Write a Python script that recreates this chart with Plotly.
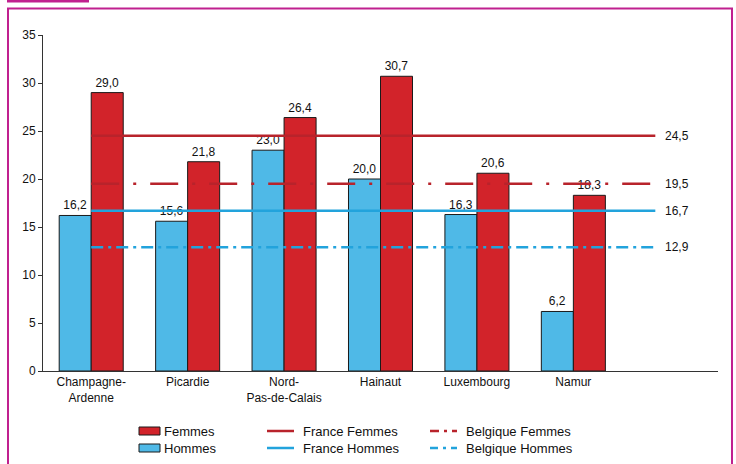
import plotly.graph_objects as go

# Regions and values (%)
regions = ["Champagne-<br>Ardenne", "Picardie", "Nord-<br>Pas-de-Calais", "Hainaut", "Luxembourg", "Namur"]
femmes = [29.0, 21.8, 26.4, 30.7, 20.6, 18.3]
hommes = [16.2, 15.6, 23.0, 20.0, 16.3, 6.2]

# Reference levels
ref_names = ["France Femmes", "France Hommes", "Belgique Femmes", "Belgique Hommes"]
ref_values = [24.5, 16.7, 19.5, 12.9]

RED = "#D2232A"
BLUE = "#4FB9E7"
RED_LINE = "#B8232B"
BLUE_LINE = "#22A3DC"
MAGENTA = "#C0208F"
FONT = "Liberation Sans, Arial, sans-serif"

ref_styles = {
    "France Femmes": dict(color=RED_LINE, width=2.5, dash="solid"),
    "France Hommes": dict(color=BLUE_LINE, width=2.5, dash="solid"),
    "Belgique Femmes": dict(color=RED_LINE, width=2.5, dash="28px,14px,3px,14px"),
    "Belgique Hommes": dict(color=BLUE_LINE, width=2.5, dash="12px,5px,3px,5px"),
}

xpos = list(range(len(regions)))
line_end = 5.85
label_x = 5.93

fig = go.Figure()
fig.add_trace(go.Bar(
    x=xpos, y=hommes, name="Hommes",
    marker=dict(color=BLUE, line=dict(color="#1a1a1a", width=1)),
    texttemplate="%{y:.1f}", textposition="outside",
    textfont=dict(size=12, color="#111", family=FONT), cliponaxis=False,
))
fig.add_trace(go.Bar(
    x=xpos, y=femmes, name="Femmes",
    marker=dict(color=RED, line=dict(color="#1a1a1a", width=1)),
    texttemplate="%{y:.1f}", textposition="outside",
    textfont=dict(size=12, color="#111", family=FONT), cliponaxis=False,
))

for name, val in zip(ref_names, ref_values):
    fig.add_trace(go.Scatter(
        x=[0, line_end], y=[val, val], mode="lines", name=name,
        line=ref_styles[name], hoverinfo="skip",
    ))
    fig.add_annotation(
        x=label_x, y=val, xref="x", yref="y", text=f"{val:.1f}".replace(".", ","),
        showarrow=False, xanchor="left", yanchor="middle",
        font=dict(size=12, color="#111", family=FONT),
    )

# Pixel helpers for the decorations outside the plot area
L, R, T, B = 43, 718, 35, 371
def px(x):
    return (x - L) / (R - L)
def py(y):
    return (B - y) / (B - T)

shapes = []
# Frame
shapes.append(dict(type="rect", xref="paper", yref="paper",
                   x0=px(8), x1=px(732), y0=py(475), y1=py(8.5),
                   line=dict(color=MAGENTA, width=2), fillcolor="rgba(0,0,0,0)", layer="below"))
shapes.append(dict(type="rect", xref="paper", yref="paper",
                   x0=px(7), x1=px(89), y0=py(2.5), y1=py(-5),
                   line=dict(width=0), fillcolor=MAGENTA))

# Legend
legend_items = [
    ("box", RED, "Femmes", 139, 431),
    ("box", BLUE, "Hommes", 139, 448),
    ("line", "France Femmes", "France Femmes", 267, 431),
    ("line", "France Hommes", "France Hommes", 267, 448),
    ("line", "Belgique Femmes", "Belgique Femmes", 430, 431),
    ("line", "Belgique Hommes", "Belgique Hommes", 430, 448),
]
annotations = []
for kind, style, label, x0, yc in legend_items:
    if kind == "box":
        shapes.append(dict(type="rect", xref="paper", yref="paper",
                           x0=px(x0), x1=px(x0 + 21), y0=py(yc + 4), y1=py(yc - 4),
                           line=dict(color="#1a1a1a", width=1), fillcolor=style))
        tx = x0 + 23
    else:
        st = ref_styles[style]
        dash = st["dash"]
        if style == "Belgique Femmes":
            dash = "9px,5px,3px,5px"
        elif style == "Belgique Hommes":
            dash = "8px,5px,3px,5px"
        shapes.append(dict(type="line", xref="paper", yref="paper",
                           x0=px(x0), x1=px(x0 + 27), y0=py(yc), y1=py(yc),
                           line=dict(color=st["color"], width=2.5, dash=dash)))
        tx = x0 + 34
    annotations.append(dict(x=px(tx), y=py(yc), xref="paper", yref="paper", text=label,
                            showarrow=False, xanchor="left", yanchor="middle",
                            font=dict(size=13, color="#111", family=FONT)))

for a in annotations:
    fig.add_annotation(**a)

fig.update_layout(
    width=736, height=464,
    margin=dict(l=L, r=736 - R, t=T, b=464 - B),
    paper_bgcolor="white", plot_bgcolor="white",
    barmode="group", bargap=0.336, bargroupgap=0,
    separators=", ",
    showlegend=False,
    shapes=shapes,
    font=dict(family=FONT, size=12, color="#111"),
)
fig.update_xaxes(
    range=[-0.5, 6.5], tickmode="array", tickvals=xpos, ticktext=regions,
    showline=True, linecolor="#333", linewidth=1, showgrid=False, zeroline=False,
    ticks="", tickfont=dict(size=12, color="#111", family=FONT),
)
fig.update_yaxes(
    range=[0, 35], dtick=5, showline=True, linecolor="#333", linewidth=1,
    ticks="outside", ticklen=4, tickcolor="#333", showgrid=False, zeroline=False,
    tickfont=dict(size=12, color="#111", family=FONT),
)

fig.write_html("out.html")
